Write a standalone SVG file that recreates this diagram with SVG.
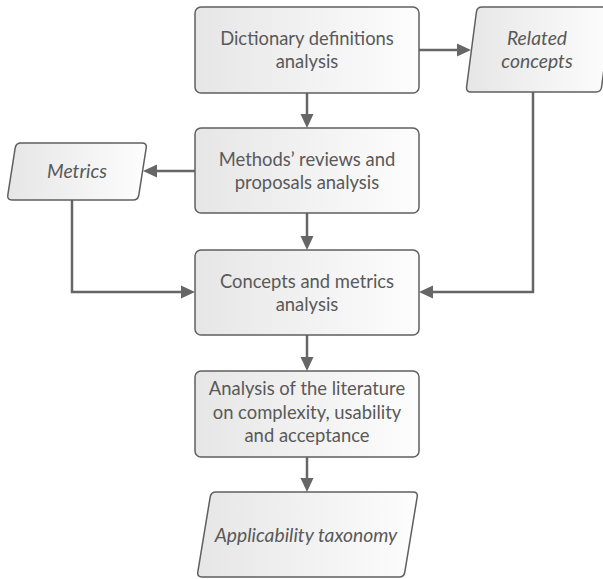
<svg xmlns="http://www.w3.org/2000/svg" width="603" height="579" viewBox="0 0 603 579">
<style>
.box{fill:url(#g);stroke:#5f5f5f;stroke-width:1.5}
.t{font-family:Lato,"Liberation Sans",sans-serif;font-size:18.4px;fill:#595959;text-anchor:middle}
.i{font-style:italic;font-size:19.3px}
.c{fill:none;stroke:#666;stroke-width:2.5;marker-end:url(#a)}
</style>
<defs>
<linearGradient id="g" x1="0" y1="0" x2="1" y2="0">
<stop offset="0" stop-color="#e6e6e6"/>
<stop offset="1" stop-color="#fdfdfd"/>
</linearGradient>
<marker id="a" markerUnits="userSpaceOnUse" markerWidth="14" markerHeight="14" viewBox="0 0 14 14" refX="0" refY="7" orient="auto">
<path d="M0,0.5 L14,7 L0,13.5 Z" fill="#666"/>
</marker>
</defs>
<g id="connectors">
<path class="c" d="M307,93 V114"/>
<path class="c" d="M419,50 H457"/>
<path class="c" d="M195,171 H157"/>
<path class="c" d="M307,213 V236"/>
<path class="c" d="M72,200 V292 H181"/>
<path class="c" d="M533,92 V292 H433"/>
<path class="c" d="M307,335 V357"/>
<path class="c" d="M307,457 V478"/>
</g>
<g id="n1">
<rect class="box" x="195" y="7" width="224" height="86" rx="6"/>
<text class="t" x="307" y="45">Dictionary definitions</text>
<text class="t" x="307" y="68">analysis</text>
</g>
<g id="n2">
<path class="box" d="M482,7 H607 Q612,7 611.4,12 L601.6,87 Q601,92 596,92 H471 Q466,92 466.6,87 L476.4,12 Q477,7 482,7 Z"/>
<text class="t i" x="537" y="45">Related</text>
<text class="t i" x="537" y="68">concepts</text>
</g>
<g id="n3">
<rect class="box" x="195" y="128" width="224" height="85" rx="6"/>
<text class="t" x="307" y="165.5">Methods’ reviews and</text>
<text class="t" x="307" y="188.5">proposals analysis</text>
</g>
<g id="n4">
<path class="box" d="M21,143 H142 Q147,143 146.2,147.9 L138.8,195.1 Q138,200 133,200 H12 Q7,200 7.8,195.1 L15.2,147.9 Q16,143 21,143 Z"/>
<text class="t i" x="77" y="177.5">Metrics</text>
</g>
<g id="n5">
<rect class="box" x="195" y="250" width="224" height="85" rx="6"/>
<text class="t" x="307" y="287.5">Concepts and metrics</text>
<text class="t" x="307" y="310.5">analysis</text>
</g>
<g id="n6">
<rect class="box" x="195" y="371" width="224" height="86" rx="6"/>
<text class="t" x="307" y="395">Analysis of the literature</text>
<text class="t" x="307" y="418.5">on complexity, usability</text>
<text class="t" x="307" y="442">and acceptance</text>
</g>
<g id="n7">
<path class="box" d="M216,492 H413 Q418,492 417.2,496.9 L404.8,572.1 Q404,577 399,577 H202 Q197,577 197.8,572.1 L210.2,496.9 Q211,492 216,492 Z"/>
<text class="t i" x="306" y="542">Applicability taxonomy</text>
</g>
</svg>
